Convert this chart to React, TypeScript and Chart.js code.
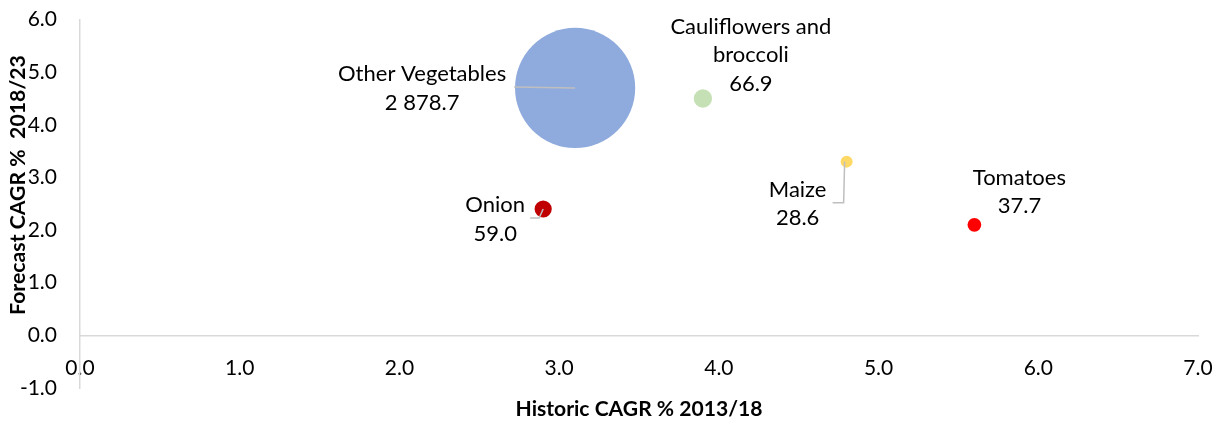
import React, { useEffect, useRef } from "react";
import { Chart, registerables } from "chart.js";

Chart.register(...registerables);

// ---- data ----
const categories = ["Other Vegetables", "Cauliflowers and broccoli", "Maize", "Onion", "Tomatoes"];
const historicCagr = [3.1, 3.9, 4.8, 2.9, 5.6];
const forecastCagr = [4.7, 4.5, 3.3, 2.4, 2.1];
const marketSize = [2878.7, 66.9, 28.6, 59.0, 37.7];
const xTickValues = [0, 1, 2, 3, 4, 5, 6, 7];
const yTickValues = [-1, 0, 1, 2, 3, 4, 5, 6];
const xTitle = "Historic CAGR % 2013/18";
const yTitle = "Forecast CAGR %  2018/23";

// ---- styles ----
const bubbleColors = ["#8FAADC", "#C5E0B4", "#FFD966", "#C00000", "#FF0000"];
const BUBBLE_SCALE = 1.12; // px radius per sqrt(size)
const FONT = "Lato, 'Open Sans', sans-serif";
const TICK_SIZE = 21;
const LABEL_SIZE = 22;
const X_TITLE_WIDTH = 247;
const Y_TITLE_WIDTH = 260;
const AXIS_COLOR = "#d9d9d9";
const LEADER_COLOR = "#bfbfbf";

// label placement relative to bubble centre (pixels)
const labelLayout = [
  { dx: -153, dy: -14, wrap: 200, leader: [[-61, -1], [0, 0]] },
  { dx: 48, dy: -72, wrap: 190, leader: null },
  { dx: -49, dy: 28, wrap: 200, leader: [[-14, 41], [-3, 41], [-2, 0]] },
  { dx: -48, dy: -4, wrap: 200, leader: [[-13, 9], [-4, 9], [0, 0]] },
  { dx: 45, dy: -47, wrap: 200, leader: null },
];
const LINE_H = 28.5;

function fmt(v: number): string {
  const [i, d] = v.toFixed(1).split(".");
  return i.replace(/\B(?=(\d{3})+(?!\d))/g, " ") + "." + d;
}

function wrapText(ctx: CanvasRenderingContext2D, text: string, max: number): string[] {
  const words = text.split(" ");
  const lines: string[] = [];
  let cur = "";
  for (const w of words) {
    const t = cur ? cur + " " + w : w;
    if (ctx.measureText(t).width > max && cur) {
      lines.push(cur);
      cur = w;
    } else cur = t;
  }
  if (cur) lines.push(cur);
  return lines;
}

function fitBold(ctx: CanvasRenderingContext2D, text: string, width: number) {
  ctx.font = `bold 20px ${FONT}`;
  const w = ctx.measureText(text).width || width;
  const size = (20 * width) / w;
  ctx.font = `bold ${size.toFixed(2)}px ${FONT}`;
}

const labelPlugin = {
  id: "bubbleLabels",
  afterDatasetsDraw(chart: any) {
    const ctx: CanvasRenderingContext2D = chart.ctx;
    const meta = chart.getDatasetMeta(0);
    ctx.save();
    meta.data.forEach((el: any, i: number) => {
      const L = labelLayout[i];
      const cx = el.x;
      const cy = el.y;
      if (L.leader) {
        ctx.strokeStyle = LEADER_COLOR;
        ctx.lineWidth = 1.5;
        ctx.beginPath();
        L.leader.forEach((p, k) => {
          if (k === 0) ctx.moveTo(cx + p[0], cy + p[1]);
          else ctx.lineTo(cx + p[0], cy + p[1]);
        });
        ctx.stroke();
      }
      ctx.font = `${LABEL_SIZE}px ${FONT}`;
      ctx.fillStyle = "#000";
      ctx.textAlign = "center";
      ctx.textBaseline = "middle";
      const lines = wrapText(ctx, categories[i], L.wrap).concat([fmt(marketSize[i])]);
      lines.forEach((t, k) => {
        ctx.fillText(t, cx + L.dx, cy + L.dy + k * LINE_H);
      });
    });
    ctx.restore();
  },
};

const axisTitlePlugin = {
  id: "axisTitles",
  afterDraw(chart: any) {
    const ctx: CanvasRenderingContext2D = chart.ctx;
    const area = chart.chartArea;
    ctx.save();
    ctx.fillStyle = "#000";
    ctx.textAlign = "center";
    ctx.textBaseline = "middle";
    fitBold(ctx, xTitle, X_TITLE_WIDTH);
    ctx.fillText(xTitle, (area.left + area.right) / 2, 409);
    fitBold(ctx, yTitle, Y_TITLE_WIDTH);
    ctx.translate(18, 185);
    ctx.rotate(-Math.PI / 2);
    ctx.fillText(yTitle, 0, 0);
    ctx.restore();
  },
};

export default function App() {
  const ref = useRef<HTMLCanvasElement | null>(null);
  useEffect(() => {
    if (!ref.current) return;
    const points = historicCagr.map((x, i) => ({
      x,
      y: forecastCagr[i],
      r: Math.sqrt(marketSize[i]) * BUBBLE_SCALE,
    }));
    const chart = new Chart(ref.current, {
      type: "bubble",
      data: {
        datasets: [
          {
            label: "Market size",
            data: points,
            backgroundColor: bubbleColors,
            borderWidth: 0,
            hoverRadius: 0,
            clip: false,
          },
        ],
      },
      options: {
        responsive: false,
        animation: false,
        events: [],
        layout: { autoPadding: false, padding: { left: 0, right: 27, top: 19.5, bottom: 33 } },
        plugins: { legend: { display: false }, tooltip: { enabled: false } },
        scales: {
          x: {
            type: "linear",
            position: { y: 0 },
            min: 0,
            max: 7,
            afterBuildTicks: (s: any) => {
              s.ticks = xTickValues.map((v) => ({ value: v }));
            },
            grid: { display: false, drawTicks: false },
            border: { display: true, color: AXIS_COLOR, width: 1.5 },
            ticks: {
              padding: 20,
              autoSkip: false,
              color: "#000",
              font: { family: FONT, size: TICK_SIZE },
              maxRotation: 0,
              callback: (v: any) => Number(v).toFixed(1),
            },
            afterFit: (s: any) => {
              s.height = 33;
              s.paddingLeft = 0;
              s.paddingRight = 0;
            },
          },
          y: {
            type: "linear",
            position: "left",
            min: -1,
            max: 6,
            afterBuildTicks: (s: any) => {
              s.ticks = yTickValues.map((v) => ({ value: v }));
            },
            grid: { display: false, drawTicks: false },
            border: { display: true, color: AXIS_COLOR, width: 1.5 },
            ticks: {
              padding: 23,
              autoSkip: false,
              color: "#000",
              font: { family: FONT, size: TICK_SIZE },
              callback: (v: any) => Number(v).toFixed(1),
            },
            afterFit: (s: any) => {
              s.width = 80;
              s.paddingTop = 0;
              s.paddingBottom = 0;
            },
          },
        },
      },
      plugins: [labelPlugin, axisTitlePlugin],
    });
    return () => chart.destroy();
  }, []);

  return (
    <div style={{ position: "absolute", left: 0, top: 0, width: 1225, height: 421, background: "#fff" }}>
      <canvas ref={ref} width={1225} height={421} style={{ width: 1225, height: 421 }} />
    </div>
  );
}
